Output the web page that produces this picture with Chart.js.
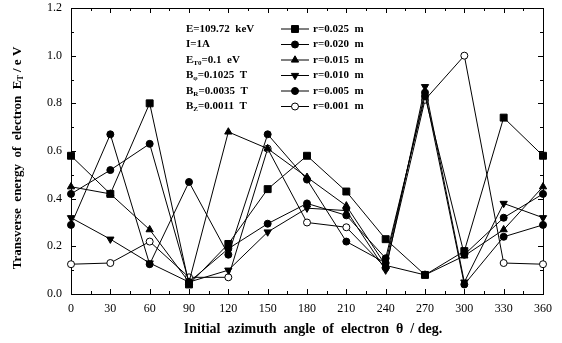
<!DOCTYPE html>
<html>
<head>
<meta charset="utf-8">
<script src="https://cdn.jsdelivr.net/npm/chart.js@4/dist/chart.umd.min.js"></script>
<style>
  html, body { margin: 0; padding: 0; background: #fff; }
  #wrap { width: 562px; height: 343px; }
</style>
</head>
<body>
<div id="wrap"><canvas id="chart" width="562" height="343"></canvas></div>
<script>
// ── Data ────────────────────────────────────────────────────────────────────
const ANGLES  = [0, 30, 60, 90, 120, 150, 180, 210, 240, 270, 300, 330, 360];
const Y_TICKS = [0, 0.2, 0.4, 0.6, 0.8, 1.0, 1.2];
const R025 = [0.58, 0.42, 0.80, 0.04, 0.21, 0.44, 0.58, 0.43, 0.23, 0.08, 0.18, 0.74, 0.58];
const R020 = [0.42, 0.52, 0.63, 0.05, 0.19, 0.295, 0.38, 0.33, 0.15, 0.83, 0.165, 0.32, 0.42];
const R015 = [0.45, 0.42, 0.27, 0.05, 0.68, 0.61, 0.49, 0.37, 0.12, 0.08, 0.16, 0.27, 0.45];
const R010 = [0.32, 0.23, 0.13, 0.05, 0.10, 0.26, 0.36, 0.35, 0.10, 0.87, 0.05, 0.38, 0.32];
const R005 = [0.29, 0.67, 0.125, 0.47, 0.165, 0.67, 0.48, 0.22, 0.13, 0.845, 0.04, 0.24, 0.29];
const R001 = [0.125, 0.13, 0.22, 0.07, 0.07, 0.61, 0.30, 0.28, 0.11, 0.815, 1.00, 0.13, 0.125];

const SERIES = [
  { label: 'r=0.025  m', values: R025, style: 'rect',     rot: 0,   open: false, r: 4.9 },
  { label: 'r=0.020  m', values: R020, style: 'circle',   rot: 0,   open: false, r: 3.5 },
  { label: 'r=0.015  m', values: R015, style: 'triangle', rot: 0,   open: false, r: 4.2 },
  { label: 'r=0.010  m', values: R010, style: 'triangle', rot: 180, open: false, r: 4.2 },
  { label: 'r=0.005  m', values: R005, style: 'circle',   rot: 0,   open: false, r: 3.5 },
  { label: 'r=0.001  m', values: R001, style: 'circle',   rot: 0,   open: true,  r: 3.5 },
];

// left column of the in-plot legend: [text, subscript, rest]
const PARAMS = [
  ['E=109.72  keV', '', ''],
  ['I=1A', '', ''],
  ['E', 'T0', '=0.1  eV'],
  ['B', 'φ', '=0.1025  T'],
  ['B', 'R', '=0.0035  T'],
  ['B', 'Z', '=0.0011  T'],
];

const SERIF = "'Liberation Serif', 'DejaVu Serif', serif";

// ── Helpers ─────────────────────────────────────────────────────────────────
function drawSub(ctx, base, sub, rest, x, y, size) {
  ctx.font = `bold ${size}px ${SERIF}`;
  ctx.fillText(base, x, y);
  x += ctx.measureText(base).width;
  if (sub) {
    ctx.font = `bold ${Math.round(size * 0.65)}px ${SERIF}`;
    ctx.fillText(sub, x, y + 3);
    x += ctx.measureText(sub).width;
    ctx.font = `bold ${size}px ${SERIF}`;
  }
  if (rest) ctx.fillText(rest, x, y);
}

const framePlugin = {
  id: 'frame',
  beforeDatasetsDraw(chart) {
    const { ctx, chartArea: a, scales } = chart;
    ctx.save();
    ctx.strokeStyle = '#000';
    ctx.lineWidth = 1;
    ctx.strokeRect(a.left + 0.5, a.top + 0.5, a.right - a.left, a.bottom - a.top);
    ctx.beginPath();
    // x ticks (inward, top and bottom)
    for (let v = 0; v <= 360; v += 15) {
      const px = Math.round(scales.x.getPixelForValue(v)) + 0.5;
      const len = v % 30 === 0 ? 5 : 3;
      ctx.moveTo(px, a.bottom); ctx.lineTo(px, a.bottom - len);
      ctx.moveTo(px, a.top);    ctx.lineTo(px, a.top + len);
    }
    // y ticks (inward, left and right)
    for (let i = 0; i <= 12; i++) {
      const py = Math.round(scales.y.getPixelForValue(i / 10)) + 0.5;
      const len = i % 2 === 0 ? 5 : 3;
      ctx.moveTo(a.left, py);  ctx.lineTo(a.left + len, py);
      ctx.moveTo(a.right, py); ctx.lineTo(a.right - len, py);
    }
    ctx.stroke();
    ctx.restore();
  },
  afterDraw(chart) {
    const { ctx } = chart;
    ctx.save();
    ctx.fillStyle = '#000';
    ctx.textBaseline = 'middle';

    // x title
    ctx.font = `bold 14px ${SERIF}`;
    ctx.textAlign = 'center';
    ctx.fillText('Initial  azimuth  angle  of  electron  θ  / deg.', 313, 329);

    // y title (rotated, with subscript)
    ctx.save();
    ctx.translate(18, 158);
    ctx.rotate(-Math.PI / 2);
    ctx.textAlign = 'left';
    const p1 = 'Transverse  energy  of  electron  E', p2 = 'T', p3 = ' / e V';
    ctx.font = `bold 13px ${SERIF}`;
    const w1 = ctx.measureText(p1).width, w3 = ctx.measureText(p3).width;
    ctx.font = `bold 8px ${SERIF}`;
    const w2 = ctx.measureText(p2).width;
    drawSub(ctx, p1, p2, p3, -(w1 + w2 + w3) / 2, 0, 13);
    ctx.restore();

    // legend
    ctx.textAlign = 'left';
    const rowY = i => 29 + i * 15.5;
    PARAMS.forEach((p, i) => drawSub(ctx, p[0], p[1], p[2], 186, rowY(i), 11));
    SERIES.forEach((s, i) => {
      const y = rowY(i);
      ctx.beginPath();
      ctx.strokeStyle = '#000';
      ctx.lineWidth = 1;
      ctx.moveTo(281, y); ctx.lineTo(309, y);
      ctx.stroke();
      ctx.fillStyle = s.open ? '#fff' : '#000';
      Chart.helpers.drawPoint(ctx, { pointStyle: s.style, rotation: s.rot, radius: s.r, borderWidth: 1 }, 295, y);
      ctx.fillStyle = '#000';
      ctx.font = `bold 11px ${SERIF}`;
      ctx.fillText(s.label, 313, y);
    });
    ctx.restore();
  },
};

function noPad(s) {
  s.paddingTop = 0; s.paddingBottom = 0; s.paddingLeft = 0; s.paddingRight = 0;
}

// ── Chart ───────────────────────────────────────────────────────────────────
new Chart(document.getElementById('chart').getContext('2d'), {
  type: 'line',
  data: {
    datasets: SERIES.map(s => ({
      label: s.label,
      data: ANGLES.map((a, i) => ({ x: a, y: s.values[i] })),
      borderColor: '#000',
      borderWidth: 1,
      tension: 0,
      clip: false,
      pointStyle: s.style,
      pointRotation: s.rot,
      pointRadius: s.r,
      pointBorderWidth: 1,
      pointBorderColor: '#000',
      pointBackgroundColor: s.open ? '#fff' : '#000',
    })),
  },
  options: {
    responsive: false,
    devicePixelRatio: 1,
    animation: false,
    layout: { padding: { top: 8, right: 19, left: 0, bottom: 0 } },
    plugins: { legend: { display: false }, tooltip: { enabled: false } },
    scales: {
      x: {
        type: 'linear', min: 0, max: 360,
        grid: { display: false, drawTicks: false },
        border: { display: false },
        ticks: { stepSize: 30, padding: 8, color: '#000', font: { family: SERIF, size: 12 }, maxRotation: 0 },
        afterFit: s => { s.height = 49; noPad(s); },
      },
      y: {
        min: 0, max: 1.2,
        grid: { display: false, drawTicks: false },
        border: { display: false },
        afterBuildTicks: s => { s.ticks = Y_TICKS.map(v => ({ value: v })); },
        ticks: { padding: 9, color: '#000', font: { family: SERIF, size: 12 }, callback: v => v.toFixed(1) },
        afterFit: s => { s.width = 71; noPad(s); },
      },
    },
  },
  plugins: [framePlugin],
});
</script>
</body>
</html>
